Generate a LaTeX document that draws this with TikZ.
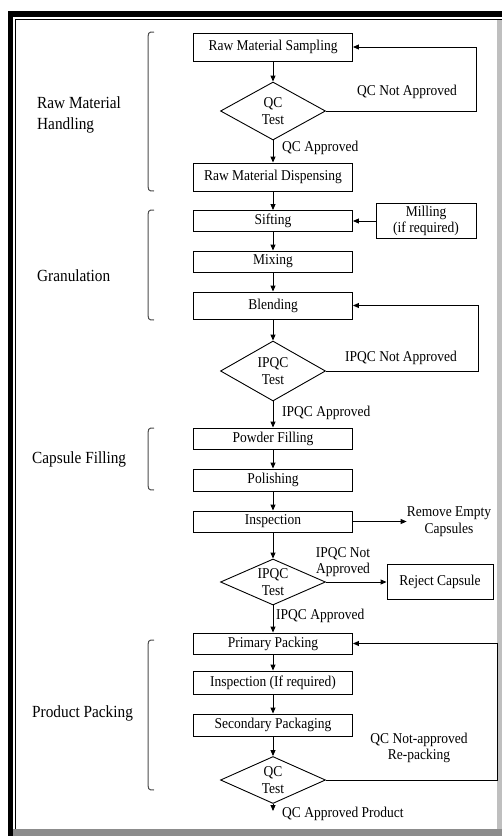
\documentclass[tikz,border=0pt]{standalone}
\usepackage{fontspec}
\setmainfont{Liberation Serif}[FakeStretch=0.9]
\usetikzlibrary{arrows.meta,shapes.geometric}

\begin{document}
\begin{tikzpicture}[x=1pt, y=1pt, font=\fontsize{15}{16.5}\selectfont,
    box/.style={draw, line width=0.9pt, minimum width=159pt, inner sep=0pt},
    test/.style={draw, shape=diamond, inner sep=0pt, line width=0.9pt, minimum width=105pt},
    arr/.style={-{Triangle[length=6pt,width=5pt]}, line width=0.9pt},
    lbl/.style={inner sep=0pt},
    sect/.style={anchor=west, align=left, inner sep=0pt, font=\fontsize{17}{21}\selectfont},
    brace/.style={draw=black!70, line width=1pt}]
    \useasboundingbox (0,0) rectangle (502,-836);
    \fill (8,-11) rectangle (502,-17);
    \fill (8,-11) rectangle (13,-836);
    \draw[line width=1pt] (15,-836) -- (15,-19.5) -- (502,-19.5);
    \fill[black!25] (497,-20) rectangle (502,-836);
    \fill[black!45] (13,-829) rectangle (502,-836);

    \foreach \n/\t/\y/\h in {rms/Raw Material Sampling/47/28, rmd/Raw Material Dispensing/177/28,
        sift/Sifting/221/21, mix/Mixing/261.5/21, blend/Blending/305.5/27,
        pfill/Powder Filling/438.5/21, pol/Polishing/480/22, insp/Inspection/521.5/21,
        ppack/Primary Packing/643.5/21, insp2/Inspection (If required)/682.5/23,
        spack/Secondary Packaging/725/22}
      \node[box, minimum height=\h pt] (\n) at (273,-\y) {\t};
    \foreach \n/\t/\y/\h in {qc1/QC/111/58, ipqc1/IPQC/371/60, ipqc2/IPQC/582/46, qc2/QC/780/47}
      \node[test, minimum height=\h pt, label={[align=center, inner sep=0pt]center:\t\\Test}] (\n) at (273,-\y) {};

    \node[box, minimum width=100pt, minimum height=35pt, align=center] (mill) at (426,-221) {Milling\\(if required)};
    \node[box, minimum width=106pt, minimum height=35pt] (rej) at (440,-582) {Reject Capsule};
    \node[lbl, align=center] (rem) at (449,-521.5) {Remove Empty\\Capsules};
    \coordinate (out) at (273,-811);

    \foreach \a/\b in {rms/qc1, qc1/rmd, rmd/sift, sift/mix, mix/blend, blend/ipqc1, ipqc1/pfill,
        pfill/pol, pol/insp, insp/ipqc2, ipqc2/ppack, ppack/insp2, insp2/spack, spack/qc2, qc2/out}
      \draw[arr] (\a) -- (\b);
    \draw[arr] (mill) -- (sift);
    \draw[arr] (insp) -- (rem);
    \draw[arr] (ipqc2) -- (rej);
    \draw[arr] (qc1.east) -- ++(150,0) |- (rms.east);
    \draw[arr] (ipqc1.east) -- ++(152,0) |- (blend.east);
    \draw[arr] (qc2.east) -- ++(171,0) |- (ppack.east);

    \node[lbl] (qcna) at (407,-92) {QC Not Approved};
    \node[lbl, anchor=west] (qca) at (282,-148) {QC Approved};
    \node[lbl] (ipna) at (401,-358) {IPQC Not Approved};
    \node[lbl, anchor=west] (ipa) at (282,-413) {IPQC Approved};
    \node[lbl, align=center] (ipna2) at (343,-562) {IPQC Not\\Approved};
    \node[lbl, anchor=west] (ipa2) at (276,-616) {IPQC Approved};
    \node[lbl, align=center] (qcrp) at (419,-748) {QC Not-approved\\Re-packing};
    \node[lbl, anchor=west] (qcap) at (282,-814) {QC Approved Product};

    \node[sect] (rmh) at (37,-115) {Raw Material\\Handling};
    \node[sect] (gran) at (37,-276) {Granulation};
    \node[sect] (capf) at (32,-459) {Capsule Filling};
    \node[sect] (prodp) at (32,-713) {Product Packing};
    \foreach \t/\b in {32/191, 210/320, 428/490, 640/790}
      \draw[brace] (154,-\t) .. controls (148,-\t) .. (148,-\t-10) -- (148,-\b+10) .. controls (148,-\b) .. (154,-\b);
\end{tikzpicture}
\end{document}
